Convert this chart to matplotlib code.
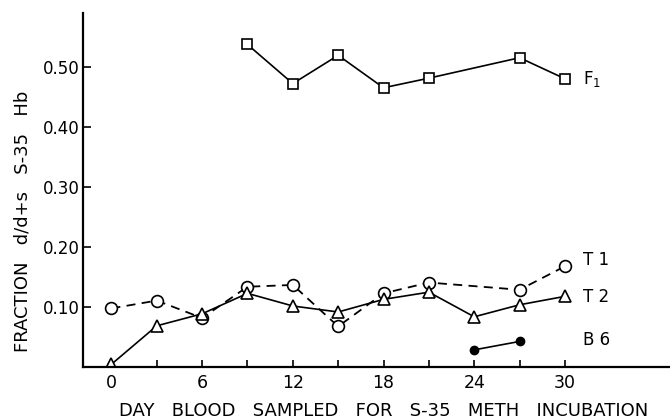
import matplotlib
matplotlib.use("Agg")
import matplotlib.pyplot as plt

# days sampled
days_f1 = [9, 12, 15, 18, 21, 27, 30]
f1 = [0.537, 0.472, 0.519, 0.465, 0.481, 0.515, 0.480]

days_t = [0, 3, 6, 9, 12, 15, 18, 21, 27, 30]
t1 = [0.098, 0.111, 0.082, 0.134, 0.137, 0.068, 0.123, 0.141, 0.129, 0.168]

days_t2 = [0, 3, 6, 9, 12, 15, 18, 21, 24, 27, 30]
t2 = [0.005, 0.069, 0.089, 0.123, 0.102, 0.092, 0.113, 0.125, 0.084, 0.104, 0.118]

days_b6 = [24, 27]
b6 = [0.029, 0.043]

xticks = [0, 6, 12, 18, 24, 30]
yticks = [0.10, 0.20, 0.30, 0.40, 0.50]

plt.rcParams["font.family"] = "DejaVu Sans"

fig = plt.figure(figsize=(6.7, 4.19), dpi=100)
ax = fig.add_axes([0.1234, 0.1234, 0.8766, 0.845])

ax.plot(days_f1, f1, color="black", lw=1.2, marker="s", ms=7,
        mfc="white", mec="black", mew=1.2)
ax.plot(days_t, t1, color="black", lw=1.3, ls=(0, (5, 3.5)), marker="o",
        ms=8.5, mfc="white", mec="black", mew=1.2)
ax.plot(days_t2, t2, color="black", lw=1.2, marker="^", ms=9,
        mfc="white", mec="black", mew=1.2)
ax.plot(days_b6, b6, color="black", lw=1.2, marker="o", ms=6)

lab = dict(fontsize=12, va="center", ha="left")
ax.text(31.2, 0.480, "F$_\\mathregular{1}$", **lab)
ax.text(31.2, 0.178, "T 1", **lab)
ax.text(31.2, 0.117, "T 2", **lab)
ax.text(31.2, 0.045, "B 6", **lab)

ax.set_xlim(-1.9, 36.95)
ax.set_ylim(0, 0.589)

ax.set_xticks(list(range(0, 31, 3)))
ax.set_xticklabels([str(d) if d in xticks else "" for d in range(0, 31, 3)])
ax.set_yticks(yticks)
ax.set_yticklabels(["%.2f" % v for v in yticks])

ax.spines["top"].set_visible(False)
ax.spines["right"].set_visible(False)
ax.spines["left"].set_linewidth(1.6)
ax.spines["bottom"].set_linewidth(1.6)
ax.tick_params(axis="x", direction="in", length=5, width=1.2,
               labelsize=12.5, pad=5)
ax.tick_params(axis="y", direction="in", length=6, width=1.2,
               labelsize=12, pad=2)

# axis titles placed by hand, wide word spacing like the original lettering
fig.text(0.573, 0.006, "DAY   BLOOD   SAMPLED   FOR   S-35   METH   INCUBATION",
         fontsize=13, ha="center", va="baseline")
fig.text(0.041, 0.471, "FRACTION   d/d+s   S-35   Hb", fontsize=13,
         rotation=90, rotation_mode="anchor", ha="center", va="baseline")

fig.savefig("out.png", dpi=100)
